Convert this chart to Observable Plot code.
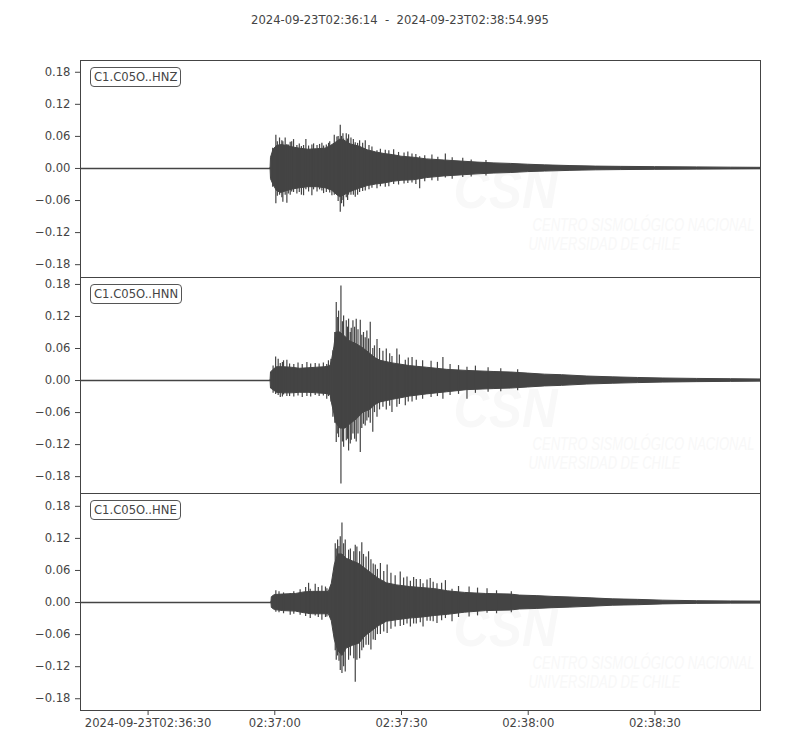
<!DOCTYPE html>
<html>
<head>
<meta charset="utf-8">
<script src="https://cdn.jsdelivr.net/npm/d3@7"></script>
<script src="https://cdn.jsdelivr.net/npm/@observablehq/plot@0.6"></script>
<style>
  body { margin: 0; background: #fff; font-family: "DejaVu Sans", sans-serif; }
  #wrap { position: relative; width: 800px; height: 750px; overflow: hidden; }
  #wrap svg { position: absolute; left: 0; }
  #title { position: absolute; left: 0; top: 13px; width: 800px; text-align: center; font-size: 11.6px; color: #444; white-space: pre; }
  .lbl { position: absolute; left: 90px; box-sizing: border-box; height: 20px; line-height: 18px; padding: 0 3px;
         border: 1px solid #555; border-radius: 4px; background: #fff; font-size: 11.6px; color: #444; white-space: pre; z-index: 5; }
</style>
</head>
<body>
<div id="wrap"></div>
<script>
// ---------- data ----------
const startTime = "2024-09-23T02:36:14";
const endTime = "2024-09-23T02:38:54.995";
const refTime = "2024-09-23T02:37:00"; // offsets below are seconds relative to this
const channels = ["C1.C05O..HNZ", "C1.C05O..HNN", "C1.C05O..HNE"];
const yTicks = [-0.18, -0.12, -0.06, 0, 0.06, 0.12, 0.18];
const xTickLabels = ["2024-09-23T02:36:30", "02:37:00", "02:37:30", "02:38:00", "02:38:30"];
const xTickTimes = ["2024-09-23T02:36:30", "2024-09-23T02:37:00", "2024-09-23T02:37:30", "2024-09-23T02:38:00", "2024-09-23T02:38:30"];
const watermark = ["CSN", "CENTRO SISMOLÓGICO NACIONAL", "UNIVERSIDAD DE CHILE"];

// HNZ envelope (core) and peaks
const hnzT  = [-1.0, -0.9, -0.3, 0.5, 1.5, 3, 4.5, 6, 8, 10, 12, 13.5, 14.8, 15.5, 16.5, 18, 20, 22, 24, 26, 28, 30, 33, 36, 40, 44, 48, 52, 56, 60, 64, 70, 76, 82, 90, 100, 108, 115];
const hnzHi = [0, 0.02, 0.035, 0.042, 0.044, 0.042, 0.039, 0.037, 0.035, 0.036, 0.037, 0.043, 0.05, 0.054, 0.052, 0.045, 0.041, 0.034, 0.030, 0.027, 0.025, 0.022, 0.020, 0.017, 0.015, 0.013, 0.011, 0.0095, 0.0085, 0.007, 0.0058, 0.0045, 0.0035, 0.003, 0.0025, 0.002, 0.0015, 0.0012];
const hnzLo = [0, -0.02, -0.031, -0.042, -0.046, -0.042, -0.039, -0.037, -0.035, -0.035, -0.037, -0.041, -0.05, -0.054, -0.05, -0.044, -0.038, -0.033, -0.030, -0.028, -0.025, -0.023, -0.022, -0.018, -0.015, -0.013, -0.011, -0.0095, -0.0085, -0.0068, -0.0058, -0.0045, -0.0035, -0.003, -0.0025, -0.002, -0.0015, -0.0012];
const hnzPkT  = [0.25, 1.12, 1.67, 1.91, 2.46, 2.86, 3.65, 4.44, 5.23, 6.81, 7.36, 8.78, 9.18, 11.15, 11.55, 12.73, 13.52, 14.08, 14.71, 15.5, 16.13, 16.29, 16.92, 17.24, 17.47, 18.03, 19.05, 20.08, 21.42, 24.19, 26.16, 28.14, 32.48, 34.3, 40.38,
                 -0.5, 0.6, 3.2, 4.0, 5.8, 6.3, 8.0, 10.0, 10.6, 12.2, 13.0, 15.0, 15.8, 18.6, 19.6, 20.8, 22.3, 23.0, 25.0, 27.0, 29.3, 30.6, 31.5, 33.4, 35.5, 37.2, 38.6, 42.0, 44.5, 46.5, 50.0];
const hnzPkLo = [-0.066, -0.05, -0.055, -0.063, -0.05, -0.065, -0.05, -0.045, -0.048, -0.051, -0.04, -0.051, -0.04, -0.042, -0.047, -0.04, -0.051, -0.05, -0.05, -0.082, -0.06, -0.072, -0.055, -0.06, -0.05, -0.05, -0.054, -0.045, -0.042, -0.038, -0.035, -0.03, -0.027, -0.038, -0.018,
                 -0.035, -0.052, -0.048, -0.044, -0.045, -0.05, -0.044, -0.044, -0.04, -0.045, -0.046, -0.062, -0.066, -0.05, -0.05, -0.043, -0.04, -0.037, -0.034, -0.034, -0.031, -0.029, -0.028, -0.03, -0.025, -0.023, -0.024, -0.02, -0.017, -0.016, -0.014];
const hnzPkHi = [0.062, 0.057, 0.052, 0.05, 0.057, 0.045, 0.049, 0.054, 0.043, 0.043, 0.054, 0.044, 0.046, 0.047, 0.042, 0.047, 0.044, 0.062, 0.059, 0.081, 0.065, 0.055, 0.065, 0.055, 0.063, 0.057, 0.048, 0.052, 0.052, 0.033, 0.034, 0.035, 0.027, 0.022, 0.027,
                 0.038, 0.05, 0.044, 0.05, 0.046, 0.041, 0.042, 0.043, 0.045, 0.044, 0.05, 0.06, 0.06, 0.054, 0.047, 0.047, 0.043, 0.04, 0.036, 0.033, 0.03, 0.029, 0.031, 0.026, 0.024, 0.025, 0.021, 0.02, 0.019, 0.016, 0.015];

// HNN envelope (core) and peaks
const hnnT  = [-1.0, -0.9, -0.3, 0.5, 2, 4, 6, 8, 10, 12, 13.2, 13.6, 14.1, 14.55, 15.5, 16.7, 17.9, 19.4, 21.0, 22.6, 23.8, 25, 28, 32, 36, 40.8, 45.5, 51.8, 56, 60, 64, 68, 74, 80, 86, 92, 100, 108, 115];
const hnnHi = [0, 0.015, 0.02, 0.025, 0.025, 0.024, 0.022, 0.023, 0.024, 0.025, 0.027, 0.04, 0.062, 0.09, 0.09, 0.082, 0.073, 0.068, 0.06, 0.05, 0.042, 0.037, 0.032, 0.027, 0.024, 0.02, 0.018, 0.016, 0.015, 0.013, 0.011, 0.01, 0.0075, 0.006, 0.0048, 0.0038, 0.003, 0.0025, 0.002];
const hnnLo = [0, -0.015, -0.018, -0.023, -0.024, -0.024, -0.023, -0.023, -0.024, -0.025, -0.027, -0.045, -0.062, -0.08, -0.09, -0.09, -0.082, -0.073, -0.06, -0.055, -0.046, -0.041, -0.036, -0.03, -0.026, -0.022, -0.018, -0.016, -0.015, -0.013, -0.011, -0.01, -0.0075, -0.006, -0.0048, -0.0038, -0.003, -0.0025, -0.002];
const hnnPkT  = [0.2, 0.8, 1.3, 2.07, 2.86, 7.6, 9.57, 12.3, 12.7, 13.76, 14.55, 15.1, 15.66, 16.29, 16.92, 17.47, 17.87, 18.5, 19.28, 20.24, 21.0, 21.8, 22.6, 23.2, 24.2, 26.4, 27.74, 28.9, 30.9, 32.5, 39.8, 45.5,
                 -0.4, 1.8, 3.5, 4.5, 5.5, 6.5, 8.5, 10.5, 11.5, 13.3, 14.2, 14.9, 16.0, 17.2, 18.1, 18.9, 19.7, 20.6, 21.4, 22.2, 23.6, 24.8, 25.6, 27.2, 29.5, 31.6, 33.5, 35.0, 37.0, 38.5, 41.5, 43.5, 47.5, 50.5, 53.5, 57.5];
const hnnPkLo = [-0.026, -0.028, -0.032, -0.027, -0.030, -0.030, -0.028, -0.035, -0.030, -0.069, -0.116, -0.107, -0.194, -0.125, -0.113, -0.132, -0.119, -0.100, -0.115, -0.135, -0.082, -0.076, -0.080, -0.097, -0.069, -0.055, -0.060, -0.050, -0.047, -0.040, -0.035, -0.035,
                 -0.024, -0.031, -0.03, -0.031, -0.029, -0.032, -0.031, -0.03, -0.029, -0.04, -0.08, -0.1, -0.115, -0.11, -0.112, -0.11, -0.1, -0.09, -0.085, -0.07, -0.06, -0.055, -0.05, -0.048, -0.045, -0.04, -0.037, -0.035, -0.032, -0.03, -0.028, -0.026, -0.024, -0.022, -0.021, -0.019];
const hnnPkHi = [0.044, 0.040, 0.032, 0.037, 0.038, 0.034, 0.032, 0.030, 0.037, 0.056, 0.146, 0.130, 0.177, 0.121, 0.112, 0.115, 0.090, 0.112, 0.115, 0.113, 0.090, 0.093, 0.109, 0.060, 0.077, 0.059, 0.045, 0.059, 0.038, 0.043, 0.043, 0.025,
                 0.027, 0.034, 0.031, 0.03, 0.033, 0.03, 0.031, 0.031, 0.033, 0.04, 0.09, 0.118, 0.11, 0.1, 0.098, 0.1, 0.095, 0.085, 0.08, 0.078, 0.065, 0.06, 0.055, 0.05, 0.048, 0.042, 0.038, 0.037, 0.036, 0.034, 0.03, 0.028, 0.027, 0.024, 0.022, 0.02];

// HNE envelope (core) and peaks
const hneT  = [-0.8, -0.7, 0, 2, 5, 7, 9, 11, 12.8, 13.5, 14.2, 15.0, 16.0, 17.0, 18.5, 20.0, 21.5, 23, 24.5, 26.5, 29, 32, 35, 38, 41, 45, 50, 55.8, 58, 62, 66, 70, 75, 80, 86, 92, 100, 108, 115];
const hneHi = [0, 0.01, 0.014, 0.015, 0.016, 0.019, 0.02, 0.02, 0.02, 0.035, 0.07, 0.09, 0.09, 0.082, 0.077, 0.072, 0.063, 0.054, 0.045, 0.036, 0.032, 0.029, 0.027, 0.025, 0.021, 0.018, 0.016, 0.015, 0.013, 0.012, 0.0105, 0.0095, 0.0078, 0.006, 0.005, 0.0035, 0.0025, 0.002, 0.0018];
const hneLo = [0, -0.01, -0.014, -0.016, -0.017, -0.02, -0.022, -0.022, -0.022, -0.035, -0.07, -0.09, -0.1, -0.086, -0.081, -0.077, -0.063, -0.054, -0.045, -0.036, -0.033, -0.03, -0.028, -0.025, -0.023, -0.019, -0.016, -0.015, -0.013, -0.012, -0.0105, -0.0095, -0.0078, -0.006, -0.005, -0.0035, -0.0025, -0.002, -0.0018];
const hnePkT  = [0.25, 2.07, 3.65, 8.0, 8.39, 9.57, 11.15, 12.34, 13.92, 14.31, 14.55, 14.87, 15.5, 15.9, 16.68, 17.47, 19.05, 19.44, 20.08, 20.6, 22.2, 22.76, 23.8, 25.0, 26.6, 29.7, 31.3, 32.1, 32.87, 34.45, 35.1, 36.04, 36.8, 38.4, 40.4, 41.96, 50.25,
                 1.0, 4.5, 6.0, 7.3, 10.3, 12.0, 13.3, 15.2, 16.3, 17.9, 18.7, 21.0, 21.6, 23.3, 24.3, 25.8, 27.5, 28.5, 30.5, 33.5, 37.5, 39.5, 43.5, 46.0, 48.0, 52.5, 56.0];
const hnePkLo = [-0.018, -0.021, -0.024, -0.022, -0.030, -0.025, -0.033, -0.027, -0.058, -0.090, -0.108, -0.100, -0.127, -0.133, -0.130, -0.108, -0.149, -0.108, -0.105, -0.090, -0.080, -0.089, -0.071, -0.060, -0.058, -0.045, -0.040, -0.046, -0.040, -0.038, -0.046, -0.035, -0.035, -0.039, -0.030, -0.036, -0.020,
                 -0.019, -0.022, -0.024, -0.026, -0.028, -0.028, -0.03, -0.11, -0.12, -0.1, -0.105, -0.085, -0.08, -0.07, -0.06, -0.055, -0.05, -0.046, -0.043, -0.04, -0.036, -0.034, -0.028, -0.027, -0.025, -0.021, -0.019];
const hnePkHi = [0.022, 0.018, 0.017, 0.036, 0.025, 0.034, 0.031, 0.026, 0.050, 0.110, 0.100, 0.117, 0.123, 0.149, 0.117, 0.098, 0.107, 0.104, 0.095, 0.112, 0.095, 0.080, 0.070, 0.073, 0.070, 0.057, 0.048, 0.040, 0.047, 0.043, 0.035, 0.042, 0.045, 0.035, 0.041, 0.025, 0.026,
                 0.02, 0.02, 0.024, 0.028, 0.028, 0.029, 0.03, 0.105, 0.11, 0.1, 0.095, 0.09, 0.085, 0.072, 0.062, 0.058, 0.055, 0.05, 0.046, 0.043, 0.038, 0.036, 0.03, 0.029, 0.027, 0.022, 0.02];

// y-limits of each panel
const yDomains = [[-0.204, 0.202], [-0.2116, 0.193], [-0.202, 0.204]];

// ---------- build ----------
const utc = s => new Date(s + "Z");
const ref = utc(refTime).getTime();
const at = s => new Date(ref + s * 1000);
const rows = (t, lo, hi) => t.map((s, i) => ({ t: at(s), lo: lo[i], hi: hi[i] }));

const traces = [
  { core: rows(hnzT, hnzLo, hnzHi), peaks: rows(hnzPkT, hnzPkLo, hnzPkHi) },
  { core: rows(hnnT, hnnLo, hnnHi), peaks: rows(hnnPkT, hnnPkLo, hnnPkHi) },
  { core: rows(hneT, hneLo, hneHi), peaks: rows(hnePkT, hnePkLo, hnePkHi) }
];

const layout = [
  { top: 0,   height: 277, mt: 60, mb: 0,  xAxis: false, wm: 0, lbl: 67 },
  { top: 277, height: 216, mt: 0,  mb: 0,  xAxis: false, wm: 2, lbl: 284 },
  { top: 493, height: 257, mt: 0,  mb: 40, xAxis: true,  wm: 5, lbl: 500 }
];

const ink = "#444";
const wmColor = "#f8f8f8";
const wmFont = "Liberation Sans, Arial, sans-serif";
const wmLen = { "CSN": 104, "CENTRO SISMOLÓGICO NACIONAL": 222, "UNIVERSIDAD DE CHILE": 152 };
const xTicks = xTickTimes.map(utc);
const xFmt = d => xTickLabels[xTicks.findIndex(v => v.getTime() === d.getTime())];

const wrap = document.getElementById("wrap");

traces.forEach((tr, k) => {
  const L = layout[k];
  const marks = [
    Plot.text([watermark[0]], { frameAnchor: "top-left", dx: 373, dy: 147 + L.wm, lineAnchor: "bottom", textAnchor: "start",
      fontSize: 55, fontWeight: "bold", fontStyle: "italic", fontFamily: wmFont, fill: wmColor }),
    Plot.text([watermark[1]], { frameAnchor: "top-left", dx: 452, dy: 170 + L.wm, lineAnchor: "bottom", textAnchor: "start",
      fontSize: 19, fontStyle: "italic", fontFamily: wmFont, fill: wmColor }),
    Plot.text([watermark[2]], { frameAnchor: "top-left", dx: 448, dy: 189 + L.wm, lineAnchor: "bottom", textAnchor: "start",
      fontSize: 19, fontStyle: "italic", fontFamily: wmFont, fill: wmColor }),
    Plot.ruleY([0], { stroke: ink, strokeWidth: 1.4 }),
    Plot.areaY(tr.core, { x: "t", y1: "lo", y2: "hi", fill: ink, stroke: ink, strokeWidth: 1 }),
    Plot.ruleX(tr.peaks, { x: "t", y1: "lo", y2: "hi", stroke: ink, strokeWidth: 1.2 }),
    Plot.frame({ stroke: ink, strokeWidth: 1 }),
    Plot.axisY({ ticks: yTicks, tickFormat: d3.format(".2f"), tickSize: 5, tickPadding: 5, label: null })
  ];
  if (L.xAxis) marks.push(Plot.axisX({ ticks: xTicks, tickFormat: xFmt, tickSize: 5, tickPadding: 3, label: null }));
  const svg = Plot.plot({
    width: 800, height: L.height,
    marginLeft: 80, marginRight: 40, marginTop: L.mt, marginBottom: L.mb,
    x: { type: "utc", domain: [utc(startTime), utc(endTime)], axis: L.xAxis ? undefined : null },
    y: { domain: yDomains[k] },
    style: { background: "transparent", overflow: "visible", color: ink, fontFamily: "DejaVu Sans, sans-serif", fontSize: "11.6px" },
    marks
  });
  svg.style.top = L.top + "px";
  wrap.appendChild(svg);

  // condense the faint watermark texts horizontally to their measured widths
  svg.querySelectorAll("text").forEach(t => {
    const len = wmLen[t.textContent];
    if (!len) return;
    const natural = t.getComputedTextLength();
    if (!natural) return;
    const s = len / natural;
    const bx = t.getBBox().x;
    const prev = t.getAttribute("transform") || "";
    // scale about the text's left edge
    t.setAttribute("transform", `${prev} translate(${bx},0) scale(${s},1) translate(${-bx},0)`);
  });

  const lbl = document.createElement("div");
  lbl.className = "lbl";
  lbl.style.top = L.lbl + "px";
  lbl.textContent = channels[k];
  wrap.appendChild(lbl);
});

const title = document.createElement("div");
title.id = "title";
title.textContent = `${startTime}  -  ${endTime}`;
wrap.appendChild(title);
</script>
</body>
</html>
